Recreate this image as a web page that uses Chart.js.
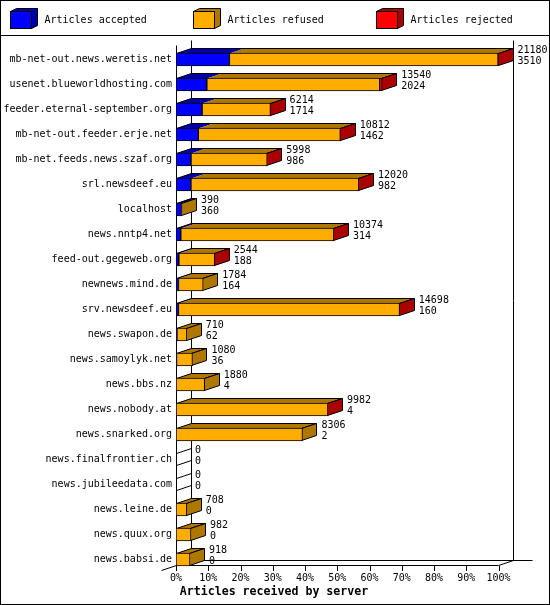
<!DOCTYPE html>
<html>
<head>
<meta charset="utf-8">
<style>
  html, body { margin: 0; padding: 0; background: #fff; }
  canvas { display: block; }
</style>
<script src="https://cdn.jsdelivr.net/npm/chart.js@4/dist/chart.umd.js"></script>
</head>
<body>
<canvas id="chart" width="550" height="605"></canvas>
<script>
const servers = [
  'mb-net-out.news.weretis.net', 'usenet.blueworldhosting.com', 'feeder.eternal-september.org',
  'mb-net-out.feeder.erje.net', 'mb-net.feeds.news.szaf.org', 'srl.newsdeef.eu', 'localhost',
  'news.nntp4.net', 'feed-out.gegeweb.org', 'newnews.mind.de', 'srv.newsdeef.eu', 'news.swapon.de',
  'news.samoylyk.net', 'news.bbs.nz', 'news.nobody.at', 'news.snarked.org', 'news.finalfrontier.ch',
  'news.jubileedata.com', 'news.leine.de', 'news.quux.org', 'news.babsi.de'
];
const totals = [21180, 13540, 6214, 10812, 5998, 12020, 390, 10374, 2544, 1784, 14698, 710, 1080, 1880, 9982, 8306, 0, 0, 708, 982, 918];
const accepted = [3510, 2024, 1714, 1462, 986, 982, 360, 314, 188, 164, 160, 62, 36, 4, 4, 2, 0, 0, 0, 0, 0];
const refused = [17640, 11352, 4486, 9328, 5000, 11020, 30, 10050, 2350, 1620, 14520, 648, 1044, 1876, 9970, 8304, 0, 0, 708, 982, 918];
const rejected = [30, 164, 14, 22, 12, 18, 0, 10, 6, 0, 18, 0, 0, 0, 8, 0, 0, 0, 0, 0, 0];
const xTickLabels = ['0%', '10%', '20%', '30%', '40%', '50%', '60%', '70%', '80%', '90%', '100%'];
const xMax = 21180;
const xStep = 2118;
const seriesNames = ['Articles accepted', 'Articles refused', 'Articles rejected'];
const frontColors = ['#0000ff', '#ffae00', '#ff0000'];
const darkColors = ['#0000aa', '#ae7700', '#aa0000'];
const xTitle = 'Articles received by server';

const FONT = '"DejaVu Sans Mono", monospace';
const DX = 15, DY = 5; // depth of the fake 3d

function poly(ctx, pts) {
  ctx.beginPath();
  pts.forEach((p, i) => i ? ctx.lineTo(p[0], p[1]) : ctx.moveTo(p[0], p[1]));
  ctx.closePath();
}

const frame3d = {
  id: 'frame3d',
  beforeDatasetsDraw(chart) {
    const ctx = chart.ctx;
    const xs = chart.scales.x;
    const x0 = 176.5, x1 = Math.round(xs.getPixelForValue(xMax)) - 0.5;
    const yFront = 565.5, yBack = yFront - DY, top = 40.5;
    ctx.save();
    ctx.strokeStyle = '#000';
    ctx.lineWidth = 1;
    ctx.beginPath();
    ctx.moveTo(x0, top + DY); ctx.lineTo(x0, yFront);
    ctx.moveTo(x0 + DX, top); ctx.lineTo(x0 + DX, yBack);
    ctx.moveTo(x1 + DX, top); ctx.lineTo(x1 + DX, yBack);
    ctx.moveTo(x0, yFront); ctx.lineTo(x1, yFront);
    ctx.moveTo(x0 + DX, yBack); ctx.lineTo(x1 + 34, yBack);
    ctx.moveTo(x0 - DX, yFront + DY); ctx.lineTo(x0, yFront);
    ctx.moveTo(x1, yFront); ctx.lineTo(x1 + DX, yBack);
    xs.ticks.forEach(t => {
      const px = Math.round(xs.getPixelForValue(t.value)) + 0.5;
      ctx.moveTo(px, yFront); ctx.lineTo(px, yFront + DY + 0.5);
    });
    ctx.stroke();

    // top and side faces of each bar
    servers.forEach((s, i) => {
      const metas = [0, 1, 2].map(d => chart.getDatasetMeta(d).data[i]);
      const y0 = Math.round(metas[0].y - 6.5) + 0.5;
      const y1 = y0 + 12;
      const left = metas[0].base;
      let last = -1, end = left;
      metas.forEach((m, d) => {
        const a = Math.min(m.base, m.x), b = Math.max(m.base, m.x);
        if (b - a <= 0) return;
        ctx.fillStyle = darkColors[d];
        poly(ctx, [[a, y0], [a + DX, y0 - DY], [b + DX, y0 - DY], [b, y0]]);
        ctx.fill();
        last = d;
        end = b;
      });
      end = Math.round(end) - 0.5;
      if (last < 0) {
        ctx.beginPath();
        ctx.moveTo(x0, y0); ctx.lineTo(x0 + DX, y0 - DY);
        ctx.moveTo(x0, y1); ctx.lineTo(x0 + DX, y1 - DY);
        ctx.stroke();
        return;
      }
      poly(ctx, [[x0, y0], [x0 + DX, y0 - DY], [end + DX, y0 - DY], [end, y0]]);
      ctx.stroke();
      // side colour follows the last series, a sliver of red still counts
      ctx.fillStyle = darkColors[last];
      poly(ctx, [[end, y0], [end + DX, y0 - DY], [end + DX, y1 - DY], [end, y1]]);
      ctx.fill();
      ctx.stroke();
    });
    ctx.restore();
  },
  afterDraw(chart) {
    const ctx = chart.ctx;
    ctx.save();
    // outer frame and legend rule
    ctx.strokeStyle = '#000';
    ctx.lineWidth = 1;
    ctx.strokeRect(0.5, 0.5, 549, 604);
    ctx.beginPath();
    ctx.moveTo(0, 35.5); ctx.lineTo(550, 35.5);
    ctx.stroke();

    // legend
    ctx.textBaseline = 'middle';
    ctx.textAlign = 'left';
    seriesNames.forEach((name, i) => {
      const lx = 10.5 + i * 183, ly = 11.5, w = 21, h = 17, dx = 6, dy = 3;
      ctx.fillStyle = darkColors[i];
      poly(ctx, [[lx, ly], [lx + dx, ly - dy], [lx + w + dx, ly - dy], [lx + w + dx, ly + h - dy], [lx + w, ly + h], [lx + w, ly]]);
      ctx.fill();
      ctx.stroke();
      ctx.fillStyle = frontColors[i];
      ctx.fillRect(lx, ly, w, h);
      ctx.strokeRect(lx, ly, w, h);
      ctx.fillStyle = '#000';
      ctx.font = '10px ' + FONT;
      ctx.fillText(name, lx + 34, 20);
    });

    // numbers next to the bars
    ctx.font = '10px ' + FONT;
    ctx.fillStyle = '#000';
    servers.forEach((s, i) => {
      const xe = chart.scales.x.getPixelForValue(totals[i]);
      const yc = chart.scales.y.getPixelForValue(i);
      ctx.fillText(String(totals[i]), xe + 19, yc - 9.5);
      ctx.fillText(String(accepted[i]), xe + 19, yc + 1.5);
    });

    ctx.font = 'bold 11.6px ' + FONT;
    ctx.textAlign = 'center';
    ctx.fillText(xTitle, 274, 592);
    ctx.restore();
  }
};

const values = [accepted, refused, rejected];
new Chart(document.getElementById('chart').getContext('2d'), {
  type: 'bar',
  plugins: [frame3d],
  data: {
    labels: servers,
    datasets: seriesNames.map((name, i) => ({
      label: name,
      data: values[i],
      backgroundColor: frontColors[i],
      borderColor: '#000',
      borderWidth: 1,
      borderSkipped: false,
      barThickness: 13
    }))
  },
  options: {
    indexAxis: 'y',
    responsive: false,
    animation: false,
    events: [],
    layout: { padding: { top: 47, right: 51.5, bottom: 0, left: 0 } },
    plugins: { legend: { display: false }, title: { display: false }, tooltip: { enabled: false } },
    scales: {
      x: {
        stacked: true,
        min: 0,
        max: xMax,
        afterFit: s => { s.height = 33; },
        afterBuildTicks: s => { s.ticks = xTickLabels.map((l, i) => ({ value: i * xStep })); },
        grid: { display: false, tickLength: 0 },
        border: { display: false },
        ticks: {
          color: '#000',
          font: { family: FONT, size: 10 },
          padding: 0,
          maxRotation: 0,
          autoSkip: false,
          callback: (v, i) => xTickLabels[i]
        }
      },
      y: {
        stacked: true,
        afterFit: s => { s.width = 176; },
        grid: { display: false, tickLength: 0 },
        border: { display: false },
        ticks: {
          color: '#000',
          font: { family: FONT, size: 10 },
          padding: 4,
          autoSkip: false
        }
      }
    }
  }
});
</script>
</body>
</html>
